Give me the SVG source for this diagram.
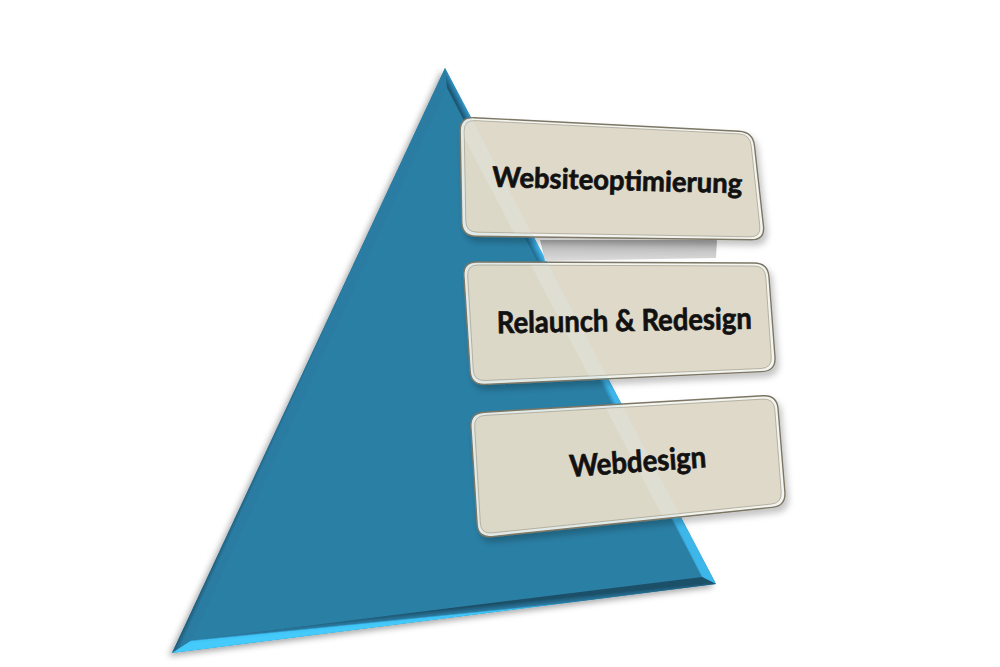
<svg xmlns="http://www.w3.org/2000/svg" width="1000" height="667" viewBox="0 0 1000 667">
  <style>
    .lbl { font-family: "Lato", "Liberation Sans", sans-serif; font-weight: 700; fill: #111; stroke: #111; stroke-width: 0.7; text-anchor: middle; }
    .frame { fill: #f4f5f1; fill-opacity: 0.9; stroke: #7b7664; stroke-width: 1.4; }
    .face { fill: #dbd5c3; fill-opacity: 0.88; stroke: #aaa593; stroke-width: 0.8; }
    .glint { fill: #eef6f4; opacity: 0.22; }
  </style>
  <defs>
    <filter id="triShadow" x="-10%" y="-10%" width="120%" height="120%">
      <feDropShadow dx="-3" dy="3" stdDeviation="3" flood-color="#000" flood-opacity="0.35"/>
    </filter>
    <filter id="boxShadow" x="-10%" y="-10%" width="120%" height="130%">
      <feDropShadow dx="3" dy="5" stdDeviation="3" flood-color="#000" flood-opacity="0.25"/>
    </filter>
    <linearGradient id="leftFacet" gradientUnits="userSpaceOnUse" x1="300" y1="355" x2="311" y2="360">
      <stop offset="0" stop-color="#10313f"/>
      <stop offset="1" stop-color="#2b7ca3"/>
    </linearGradient>
    <linearGradient id="rightFacet" gradientUnits="userSpaceOnUse" x1="580" y1="330" x2="572" y2="334">
      <stop offset="0" stop-color="#3db6ea"/>
      <stop offset="0.4" stop-color="#2f8fbf"/>
      <stop offset="1" stop-color="#1d5876"/>
    </linearGradient>
    <linearGradient id="bottomFacet" gradientUnits="userSpaceOnUse" x1="445" y1="609" x2="446" y2="619">
      <stop offset="0" stop-color="#1c4f68"/>
      <stop offset="0.55" stop-color="#2a7aa2"/>
      <stop offset="0.7" stop-color="#3fc4f6"/>
      <stop offset="1" stop-color="#45cbfb"/>
    </linearGradient>
    <linearGradient id="greyBand" x1="0" y1="0" x2="0" y2="1">
      <stop offset="0" stop-color="#aeaeae"/>
      <stop offset="1" stop-color="#dcdcdc"/>
    </linearGradient>
    <clipPath id="clip1"><path d="M 475,120.6 L 739,133.9 Q 750,134.5 751.2,145.4 L 759.8,226.1 Q 761,237 750,236.8 L 477,232.2 Q 466,232 465.8,221 L 464.2,131 Q 464,120 475,120.6 Z"/></clipPath>
    <clipPath id="clip2"><path d="M 478,265 L 754,266 Q 765,266 765.75,277 L 771.25,357 Q 772,368 761,368.5 L 485,380.5 Q 474,381 473.3,370 L 467.7,276 Q 467,265 478,265 Z"/></clipPath>
    <clipPath id="clip3"><path d="M 485,415.4 L 763,399.1 Q 774,398.5 774.8,409.5 L 781.2,492 Q 782,503 771.1,504.1 L 491.9,532.9 Q 481,534 480.3,523 L 474.7,427 Q 474,416 485,415.4 Z"/></clipPath>
  </defs>

  <g id="pyramid" filter="url(#triShadow)">
    <polygon points="445,68 172,653 716,584" fill="#2c7fa5"/>
    <polygon points="445,68 172,653 192,640 447,88" fill="url(#leftFacet)"/>
    <polygon points="445,68 716,584 702,577 447,88" fill="url(#rightFacet)"/>
    <polygon points="172,653 716,584 702,577 192,640" fill="url(#bottomFacet)"/>
  </g>

  <g id="bands">
    <polygon points="540,240 717,240 716,258 545,261" fill="url(#greyBand)"/>
  </g>

  <g id="node-websiteoptimierung">
    <g filter="url(#boxShadow)">
      <path class="frame" d="M 474,117.7 L 739,131.3 Q 753,132 754.5,145.9 L 763.5,226.1 Q 765,240 751,239.8 L 476,236.2 Q 462,236 461.8,222 L 460.2,131 Q 460,117 474,117.7 Z"/>
    </g>
    <path class="face" d="M 475,120.6 L 739,133.9 Q 750,134.5 751.2,145.4 L 759.8,226.1 Q 761,237 750,236.8 L 477,232.2 Q 466,232 465.8,221 L 464.2,131 Q 464,120 475,120.6 Z"/>
    <polygon class="glint" clip-path="url(#clip1)" points="445,68 716,584 698,584 434,80"/>
    <text class="lbl" x="617" y="190" font-size="28" textLength="250" lengthAdjust="spacingAndGlyphs" transform="rotate(1.5 617 190)">Websiteoptimierung</text>
  </g>

  <g id="node-relaunch">
    <g filter="url(#boxShadow)">
      <path class="frame" d="M 477,262 L 754,263 Q 768,263 769,277 L 775,357 Q 776,371 762,371.6 L 485,384.4 Q 471,385 470.1,371 L 463.9,276 Q 463,262 477,262 Z"/>
    </g>
    <path class="face" d="M 478,265 L 754,266 Q 765,266 765.75,277 L 771.25,357 Q 772,368 761,368.5 L 485,380.5 Q 474,381 473.3,370 L 467.7,276 Q 467,265 478,265 Z"/>
    <polygon class="glint" clip-path="url(#clip2)" points="445,68 716,584 698,584 434,80"/>
    <text class="lbl" x="624.5" y="331" font-size="30" textLength="255" lengthAdjust="spacingAndGlyphs" transform="rotate(-1 624.5 331)">Relaunch &amp; Redesign</text>
  </g>

  <g id="node-webdesign">
    <g filter="url(#boxShadow)">
      <path class="frame" d="M 484,412.2 L 763,395.8 Q 777,395 778.1,409 L 784.9,492 Q 786,506 772.1,507.4 L 491.9,536.6 Q 478,538 477.1,524 L 470.9,427 Q 470,413 484,412.2 Z"/>
    </g>
    <path class="face" d="M 485,415.4 L 763,399.1 Q 774,398.5 774.8,409.5 L 781.2,492 Q 782,503 771.1,504.1 L 491.9,532.9 Q 481,534 480.3,523 L 474.7,427 Q 474,416 485,415.4 Z"/>
    <polygon class="glint" clip-path="url(#clip3)" points="445,68 716,584 698,584 434,80"/>
    <text class="lbl" x="638.5" y="472" font-size="30" textLength="137" lengthAdjust="spacingAndGlyphs" transform="rotate(-4 638.5 472)">Webdesign</text>
  </g>

  <g id="connectors"/>
</svg>
